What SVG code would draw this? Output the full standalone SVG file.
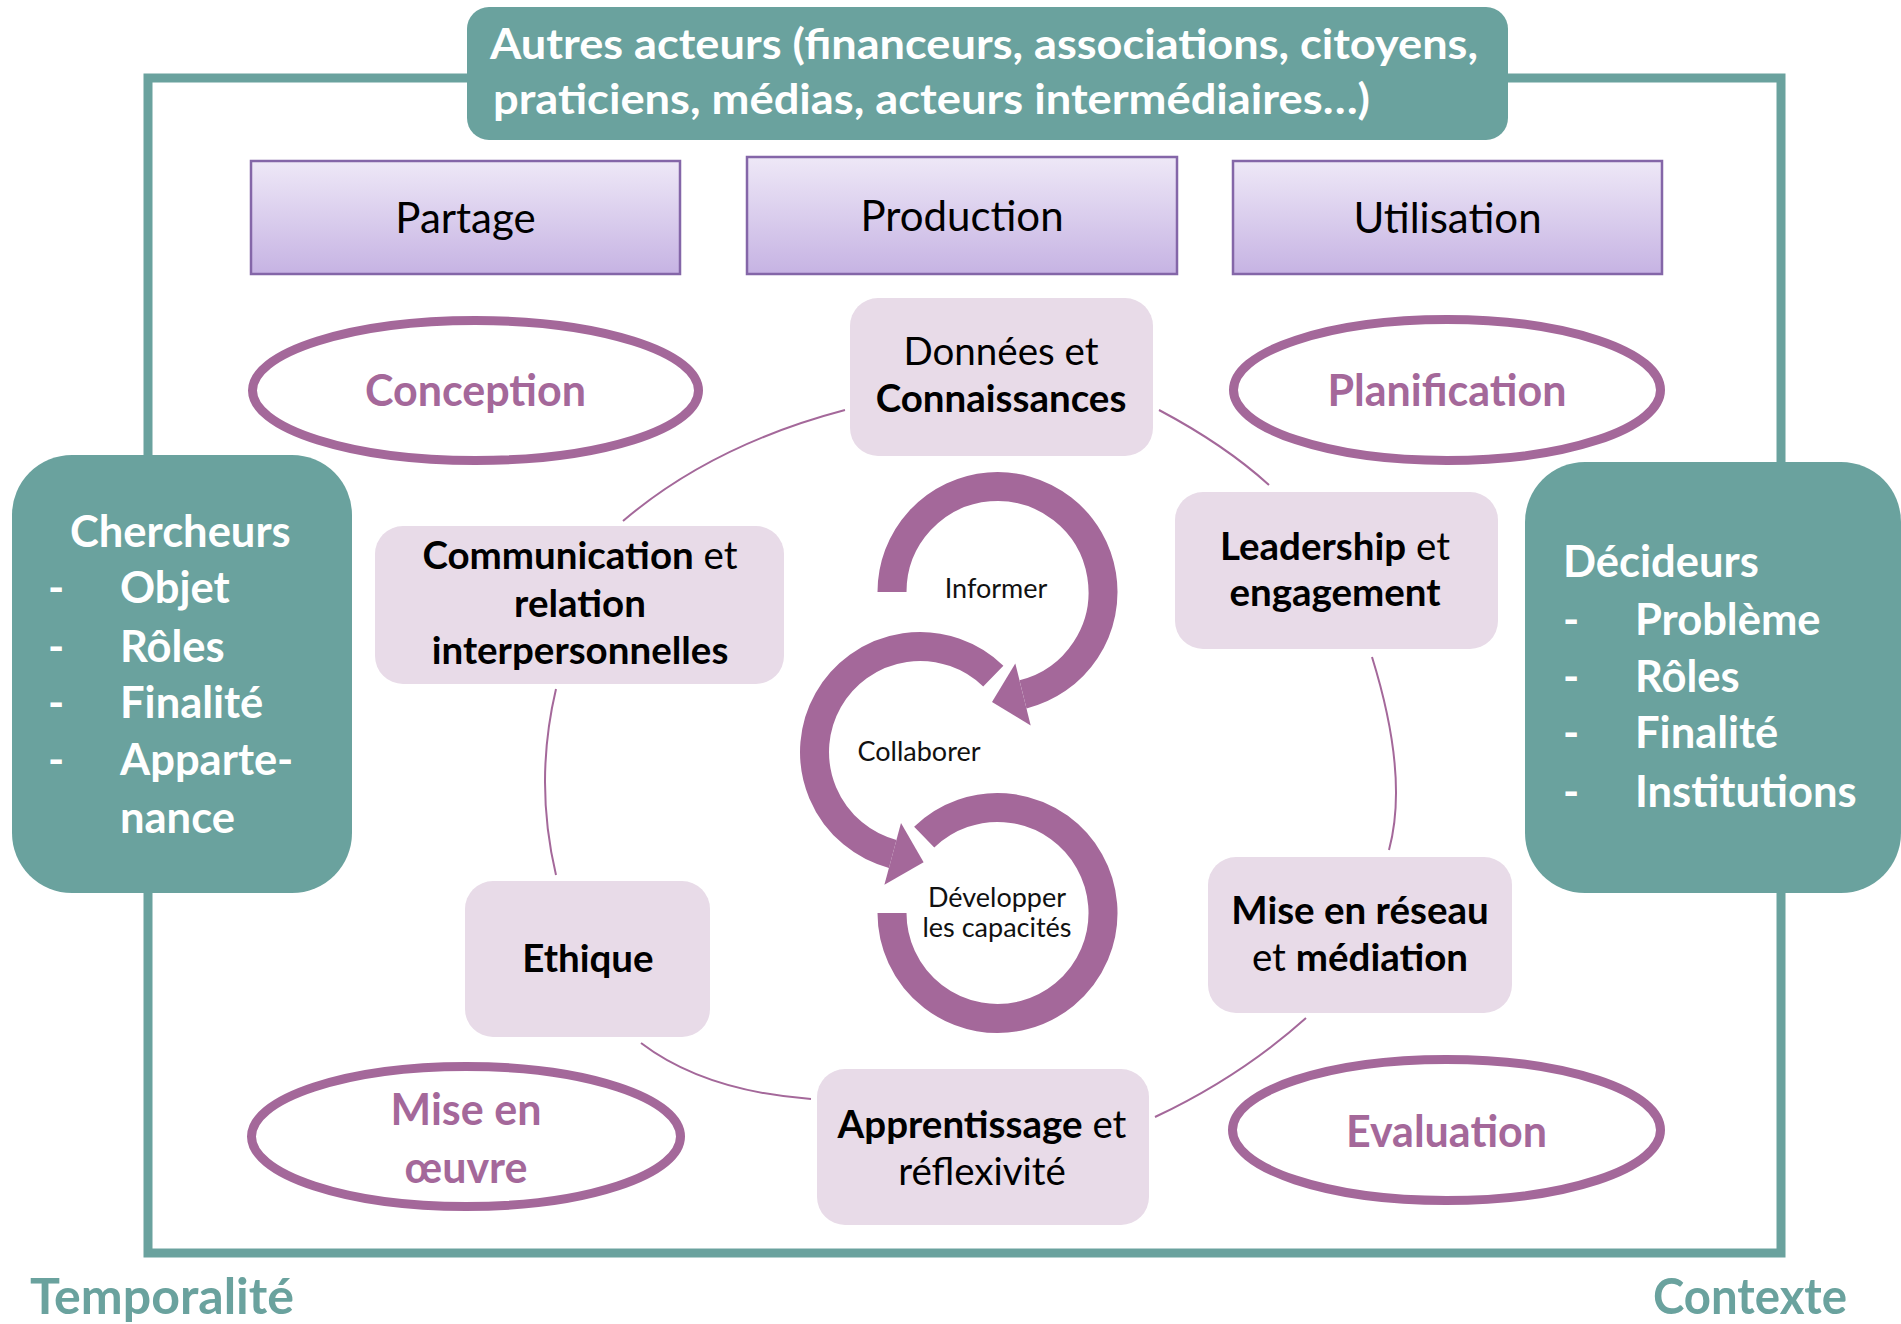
<svg xmlns="http://www.w3.org/2000/svg" width="1901" height="1324" viewBox="0 0 1901 1324">
<defs>
<linearGradient id="hdr" x1="0" y1="0" x2="0" y2="1">
<stop offset="0" stop-color="#eee8f7"/>
<stop offset="1" stop-color="#c6b3e3"/>
</linearGradient>
<style>
text{font-family:Lato,"Open Sans","Liberation Sans",sans-serif}
.hdr rect{fill:url(#hdr);stroke:#8466a8;stroke-width:2.5}
.hdr text{font-size:42px;fill:#000;text-anchor:middle}
.ell ellipse{fill:#fff;stroke:#a4689a;stroke-width:9}
.ell text{font-size:43px;font-weight:700;fill:#a4689a;text-anchor:middle}
.pk rect{fill:#e8dbe8}
.pk text{font-size:38.5px;fill:#000;text-anchor:middle}
.b{font-weight:700}
.teal{fill:#6aa29e}
.side text{font-size:43.5px;font-weight:700;fill:#fff}
.con path{fill:none;stroke:#a4689a;stroke-width:2}
.ring path{fill:none;stroke:#a4689a;stroke-width:29}
.ring polygon{fill:#a4689a}
.ring text{font-size:27px;fill:#111;text-anchor:middle}
.lbl{font-size:49px;font-weight:700;fill:#6aa29e}
</style>
</defs>
<rect width="1901" height="1324" fill="#fff"/>
<g id="frame"><rect x="148" y="78" width="1633" height="1175" fill="none" stroke="#6aa29e" stroke-width="9"/></g>

<g id="connectors" class="con">
<path d="M845 410 Q712 445 623 521"/>
<path d="M1159 410 Q1225 445 1269 485"/>
<path d="M1372 657 Q1409 776 1389 850"/>
<path d="M1306 1018 Q1240 1077 1155 1117"/>
<path d="M811 1099 Q704 1091 641 1043"/>
<path d="M556 875 Q534 782 556 689"/>
</g>

<g id="autres">
<rect class="teal" x="467" y="7" width="1041" height="133" rx="22"/>
<text x="490" y="59" font-size="42" font-weight="700" fill="#fff" textLength="988" lengthAdjust="spacingAndGlyphs">Autres acteurs (financeurs, associations, citoyens,</text>
<text x="493" y="114" font-size="42" font-weight="700" fill="#fff" textLength="877" lengthAdjust="spacingAndGlyphs">praticiens, médias, acteurs intermédiaires…)</text>
</g>

<g id="partage" class="hdr"><rect x="251" y="161" width="429" height="113"/><text x="465.5" y="233">Partage</text></g>
<g id="production" class="hdr"><rect x="747" y="157" width="430" height="117"/><text x="962" y="231">Production</text></g>
<g id="utilisation" class="hdr"><rect x="1233" y="161" width="429" height="113"/><text x="1447.5" y="233">Utilisation</text></g>

<g id="conception" class="ell"><ellipse cx="475.5" cy="390.5" rx="223" ry="70"/><text x="475.5" y="406">Conception</text></g>
<g id="planification" class="ell"><ellipse cx="1447" cy="390" rx="213.5" ry="70.5"/><text x="1447" y="406">Planification</text></g>
<g id="miseenoeuvre" class="ell"><ellipse cx="466" cy="1136.5" rx="214.5" ry="70"/><text x="466" y="1125">Mise en</text><text x="466" y="1183">œuvre</text></g>
<g id="evaluation" class="ell"><ellipse cx="1446.5" cy="1130" rx="214" ry="70.5"/><text x="1446.5" y="1147">Evaluation</text></g>

<g id="donnees" class="pk"><rect x="850" y="298" width="303" height="158" rx="28"/>
<text x="1001" y="365">Données et</text><text x="1001" y="412" class="b">Connaissances</text></g>
<g id="communication" class="pk"><rect x="375" y="526" width="409" height="158" rx="28"/>
<text x="580" y="569"><tspan class="b">Communication</tspan> et</text><text x="580" y="617" class="b">relation</text><text x="580" y="664" class="b">interpersonnelles</text></g>
<g id="leadership" class="pk"><rect x="1175" y="492" width="323" height="157" rx="28"/>
<text x="1335" y="560"><tspan class="b">Leadership</tspan> et</text><text x="1335" y="606" class="b">engagement</text></g>
<g id="miseenreseau" class="pk"><rect x="1208" y="857" width="304" height="156" rx="28"/>
<text x="1360" y="924" class="b">Mise en réseau</text><text x="1360" y="971">et <tspan class="b">médiation</tspan></text></g>
<g id="ethique" class="pk"><rect x="465" y="881" width="245" height="156" rx="28"/>
<text x="588" y="972" class="b">Ethique</text></g>
<g id="apprentissage" class="pk"><rect x="817" y="1069" width="332" height="156" rx="28"/>
<text x="982" y="1138"><tspan class="b">Apprentissage</tspan> et</text><text x="982" y="1185">réflexivité</text></g>

<g id="chercheurs" class="side">
<rect class="teal" x="12" y="455" width="340" height="438" rx="60"/>
<text x="70" y="547">Chercheurs</text>
<text x="48" y="603" font-weight="400">-</text><text x="120" y="603">Objet</text>
<text x="48" y="662" font-weight="400">-</text><text x="120" y="662">Rôles</text>
<text x="48" y="718" font-weight="400">-</text><text x="120" y="718">Finalité</text>
<text x="48" y="775" font-weight="400">-</text><text x="120" y="775">Apparte-</text>
<text x="120" y="833">nance</text>
</g>

<g id="decideurs" class="side">
<rect class="teal" x="1525" y="462" width="376" height="431" rx="60"/>
<text x="1563" y="577">Décideurs</text>
<text x="1563" y="635" font-weight="400">-</text><text x="1635" y="635">Problème</text>
<text x="1563" y="692" font-weight="400">-</text><text x="1635" y="692">Rôles</text>
<text x="1563" y="748" font-weight="400">-</text><text x="1635" y="748">Finalité</text>
<text x="1563" y="807" font-weight="400">-</text><text x="1635" y="807">Institutions</text>
</g>

<g id="cycle" class="ring">
<g id="informer">
<path d="M892 592 A105.5 105.5 0 1 1 1023 694.4"/>
<polygon points="1030.7,725.4 1015.3,663.4 992,702"/>
<text x="996" y="598">Informer</text>
</g>
<g id="collaborer">
<path d="M993.3 676.1 A105.5 105.5 0 1 0 892.7 853.9"/>
<polygon points="884.4,884.8 901,823 923.6,862.2"/>
<text x="919" y="761">Collaborer</text>
</g>
<g id="developper">
<path d="M924.2 837.1 A105.5 105.5 0 1 1 892 913"/>
<text x="997" y="907">Développer</text>
<text x="997" y="937">les capacités</text>
</g>
</g>

<text id="temporalite" class="lbl" x="30" y="1314" textLength="264" lengthAdjust="spacingAndGlyphs">Temporalité</text>
<text id="contexte" class="lbl" x="1653" y="1314" textLength="194" lengthAdjust="spacingAndGlyphs">Contexte</text>
</svg>
